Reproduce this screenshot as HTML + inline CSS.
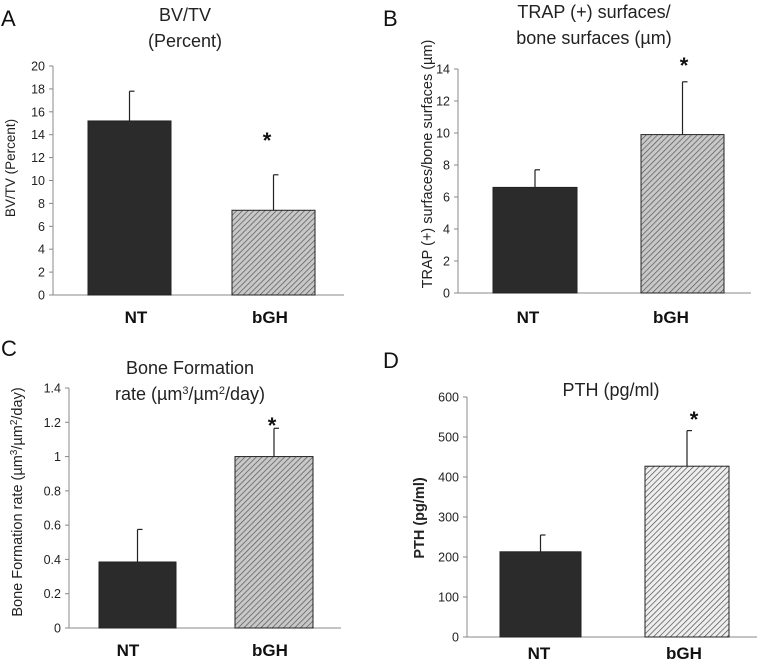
<!DOCTYPE html>
<html><head><meta charset="utf-8"><style>
html,body{margin:0;padding:0;background:#fff}
svg{display:block;font-family:"Liberation Sans",sans-serif}
</style></head><body>
<svg id="fig" width="762" height="666" viewBox="0 0 762 666">
<defs>
<pattern id="hatch" width="4" height="4" patternUnits="userSpaceOnUse" patternTransform="rotate(45)">
<rect width="4" height="4" fill="#c8c8c8"/><line x1="0" y1="0" x2="0" y2="4" stroke="#555" stroke-width="1.4"/></pattern>
<pattern id="hatch2" width="4" height="4" patternUnits="userSpaceOnUse" patternTransform="rotate(45)">
<rect width="4" height="4" fill="#eee"/><line x1="0" y1="0" x2="0" y2="4" stroke="#444" stroke-width="1.3"/></pattern>
</defs>
</svg>
<script>
const categories = ["NT", "bGH"];
const valuesA = [15.2, 7.4];
const errorsA = [17.8, 10.5];
const ticksA = [0, 2, 4, 6, 8, 10, 12, 14, 16, 18, 20];
const valuesB = [6.6, 9.9];
const errorsB = [7.7, 13.2];
const ticksB = [0, 2, 4, 6, 8, 10, 12, 14];
const valuesC = [0.385, 1.0];
const errorsC = [0.575, 1.165];
const ticksC = [0, 0.2, 0.4, 0.6, 0.8, 1, 1.2, 1.4];
const valuesD = [213, 427];
const errorsD = [255, 516];
const ticksD = [0, 100, 200, 300, 400, 500, 600];

const NS = "http://www.w3.org/2000/svg";
const svg = document.getElementById("fig");
function mk(tag, attrs, parent, text) {
  const e = document.createElementNS(NS, tag);
  for (const k in attrs) e.setAttribute(k, attrs[k]);
  if (text !== undefined) e.textContent = text;
  (parent || svg).appendChild(e);
  return e;
}

function panel(cfg) {
  const g = mk("g", {});
  
  
  const ymax = cfg.ticks[cfg.ticks.length - 1];
  const y = v => cfg.y0 - (v / ymax) * (cfg.y0 - cfg.ytop);
  const L = mk("text", {x: cfg.lx, y: cfg.ly, "font-size": 22, fill: "#111"}, g, cfg.letter);
  
  
  cfg.title.forEach((t, i) => {
    const T = mk("text", {x: cfg.tx, y: cfg.ty + i * 26, "font-size": 18, "text-anchor": "middle", fill: "#222"}, g);
    T.innerHTML = t;
    
    
  });
  const ax = mk("line", {x1: cfg.ax, y1: cfg.ytop, x2: cfg.ax, y2: cfg.y0, stroke: "#888", "stroke-width": 1}, g);
  
  
  const bx = mk("line", {x1: cfg.ax, y1: cfg.y0, x2: cfg.axEnd, y2: cfg.y0, stroke: "#888", "stroke-width": 1}, g);
  
  
  cfg.ticks.forEach(t => {
    const tk = mk("line", {x1: cfg.ax - 4, y1: y(t), x2: cfg.ax, y2: y(t), stroke: "#888"}, g);
    
    
    const tl = mk("text", {x: cfg.ax - 8, y: y(t) + 4.5, "font-size": 12.5, "text-anchor": "end", fill: "#222"}, g, String(t));
    
    
  });
  const yt = mk("text", {transform: `translate(${cfg.ytx},${cfg.yty}) rotate(-90)`, "font-size": cfg.ytfs, "text-anchor": "middle", fill: "#222", "font-weight": cfg.ytbold ? "bold" : "normal"}, g);
  yt.innerHTML = cfg.ytitle;
  
  
  categories.forEach((c, i) => {
    const x0 = cfg.bars[i][0], x1 = cfg.bars[i][1];
    const cx = (x0 + x1) / 2;
    const v = cfg.values[i], e = cfg.errors[i];
    const eb = mk("line", {x1: cx, y1: y(v), x2: cx, y2: y(e), stroke: "#222", "stroke-width": 1.2}, g);
    
    
    const cap = mk("line", {x1: cx, y1: y(e), x2: cx + 5, y2: y(e), stroke: "#222", "stroke-width": 1.2}, g);
    
    
    const r = mk("rect", {x: x0, y: y(v), width: x1 - x0, height: cfg.y0 - y(v),
      fill: i === 0 ? "#2b2b2b" : cfg.hatch, stroke: "#222", "stroke-width": 1}, g);
    
    
    const cl = mk("text", {x: cfg.labelX[i], y: cfg.labelY, "font-size": 17, "font-weight": "bold", "text-anchor": "middle", fill: "#111"}, g, c);
    
    
  });
  const st = mk("text", {x: cfg.star[0], y: cfg.star[1], "font-size": 22, "font-weight": "bold", "text-anchor": "middle", fill: "#111"}, g, "*");
  
  
}

panel({name: "panel-a", letter: "A", lx: 1, ly: 26, title: ["BV/TV", "(Percent)"], tx: 185, ty: 21,
  ax: 53, axEnd: 344, y0: 295, ytop: 66, ticks: ticksA, values: valuesA, errors: errorsA,
  bars: [[88, 171], [232, 315]], labelX: [136, 270], labelY: 323, star: [267, 148], hatch: "url(#hatch)",
  ytitle: "BV/TV (Percent)", ytx: 15, yty: 168, ytfs: 13.5});
panel({name: "panel-b", letter: "B", lx: 383, ly: 26, title: ["TRAP (+) surfaces/", "bone surfaces (µm)"], tx: 594, ty: 18,
  ax: 458, axEnd: 751, y0: 293, ytop: 69, ticks: ticksB, values: valuesB, errors: errorsB,
  bars: [[493, 577], [641, 724]], labelX: [528, 671], labelY: 323, star: [684, 73], hatch: "url(#hatch)",
  ytitle: "TRAP (+) surfaces/bone surfaces (µm)", ytx: 432, yty: 164, ytfs: 14.5});
panel({name: "panel-c", letter: "C", lx: 1, ly: 356, title: ["Bone Formation", "rate (µm<tspan dy='-6' font-size='11'>3</tspan><tspan dy='6'>/µm</tspan><tspan dy='-6' font-size='11'>2</tspan><tspan dy='6'>/day)</tspan>"], tx: 190, ty: 374,
  ax: 69, axEnd: 341, y0: 628, ytop: 388, ticks: ticksC, values: valuesC, errors: errorsC,
  bars: [[99, 176], [235, 313]], labelX: [128, 270], labelY: 656, star: [272, 433], hatch: "url(#hatch)",
  ytitle: "Bone Formation rate (µm<tspan dy='-5' font-size='10'>3</tspan><tspan dy='5'>/µm</tspan><tspan dy='-5' font-size='10'>2</tspan><tspan dy='5'>/day)</tspan>", ytx: 22, yty: 502, ytfs: 14.5});
panel({name: "panel-d", letter: "D", lx: 383, ly: 368, title: ["PTH (pg/ml)"], tx: 611, ty: 396,
  ax: 467, axEnd: 757, y0: 637, ytop: 397, ticks: ticksD, values: valuesD, errors: errorsD,
  bars: [[500, 581], [645, 729]], labelX: [539, 684], labelY: 659, star: [694, 427], hatch: "url(#hatch2)",
  ytitle: "PTH (pg/ml)", ytx: 424, yty: 518, ytfs: 14.5, ytbold: true});
</script>
</body></html>
